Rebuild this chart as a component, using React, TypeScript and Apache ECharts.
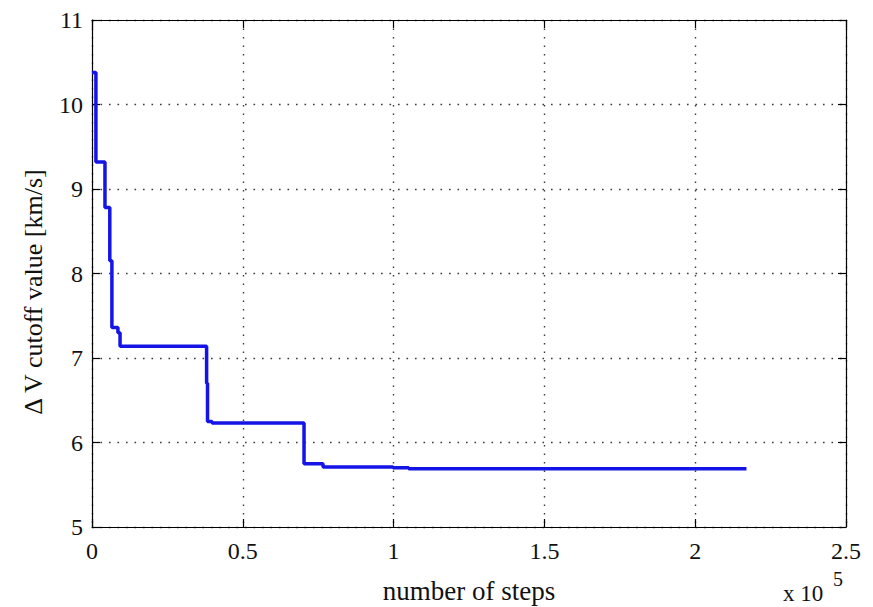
import React, { useEffect, useRef } from "react";
import * as echarts from "echarts";

// Number of search steps at which the cutoff changes, and the cutoff value held from there on
const stepCounts = [0, 1300, 4300, 5900, 6600, 8600, 9300, 38000, 38300, 39800, 70300, 76600, 99800, 105000, 217000];
const cutoffValues = [10.38, 9.32, 8.78, 8.15, 7.36, 7.3, 7.14, 6.7, 6.25, 6.23, 5.75, 5.71, 5.7, 5.69, 5.69];

const xTicks = [0, 50000, 100000, 150000, 200000, 250000];
const xTickLabels = ["0", "0.5", "1", "1.5", "2", "2.5"];

const FONT = "Liberation Serif";

export default function App() {
  const ref = useRef<HTMLDivElement>(null);

  useEffect(() => {
    if (!ref.current) return;
    const chart = echarts.init(ref.current, null, { renderer: "svg" });

    const gridLine = {
      show: true,
      lineStyle: { color: "#3a3a3a", width: 1.4, type: [1.6, 6.9] as number[] },
    };
    const axisLine = { show: true, onZero: false, lineStyle: { color: "#000", width: 1.2 } };
    const inTicks = { show: true, inside: true, length: 8, lineStyle: { color: "#000", width: 1.2 } };
    const tickFont = { fontFamily: FONT, fontSize: 24, color: "#111" };

    chart.setOption({
      animation: false,
      backgroundColor: "#fff",
      grid: { left: 92, right: 27, top: 20, bottom: 80, containLabel: false },
      xAxis: [
        {
          type: "value",
          min: 0,
          max: 250000,
          interval: 50000,
          axisLine,
          axisTick: inTicks,
          splitLine: gridLine,
          axisLabel: {
            ...tickFont,
            margin: 12,
            formatter: (v: number) => xTickLabels[xTicks.indexOf(v)] ?? "",
          },
        },
        {
          type: "value",
          position: "top",
          min: 0,
          max: 250000,
          interval: 50000,
          axisLine,
          axisTick: inTicks,
          splitLine: { show: false },
          axisLabel: { show: false },
        },
      ],
      yAxis: [
        {
          type: "value",
          min: 5,
          max: 11,
          interval: 1,
          axisLine,
          axisTick: inTicks,
          splitLine: gridLine,
          axisLabel: { ...tickFont, margin: 9 },
        },
        {
          type: "value",
          position: "right",
          min: 5,
          max: 11,
          interval: 1,
          axisLine,
          axisTick: inTicks,
          splitLine: { show: false },
          axisLabel: { show: false },
        },
      ],
      series: [
        {
          type: "line",
          step: "end",
          showSymbol: false,
          data: stepCounts.map((s, i) => [s, cutoffValues[i]]),
          lineStyle: { color: "#1414e6", width: 3.5 },
          z: 5,
        },
      ],
      graphic: [
        {
          type: "text",
          x: 469,
          y: 591,
          style: {
            text: "number of steps",
            font: `27px "${FONT}"`,
            fill: "#111",
            textAlign: "center",
            textVerticalAlign: "middle",
          },
        },
        {
          type: "text",
          x: 33,
          y: 292,
          rotation: Math.PI / 2,
          style: {
            text: "\u0394 V cutoff value [km/s]",
            font: `26px "${FONT}"`,
            fill: "#111",
            textAlign: "center",
            textVerticalAlign: "middle",
          },
        },
        {
          type: "text",
          x: 783,
          y: 593,
          style: {
            text: "x 10",
            font: `23px "${FONT}"`,
            fill: "#111",
            textAlign: "left",
            textVerticalAlign: "middle",
          },
        },
        {
          type: "text",
          x: 833,
          y: 579,
          style: {
            text: "5",
            font: `20px "${FONT}"`,
            fill: "#111",
            textAlign: "left",
            textVerticalAlign: "middle",
          },
        },
      ],
    });

    return () => chart.dispose();
  }, []);

  return (
    <div
      ref={ref}
      style={{ position: "fixed", left: 0, top: 0, width: 873, height: 607, background: "#fff" }}
    />
  );
}
